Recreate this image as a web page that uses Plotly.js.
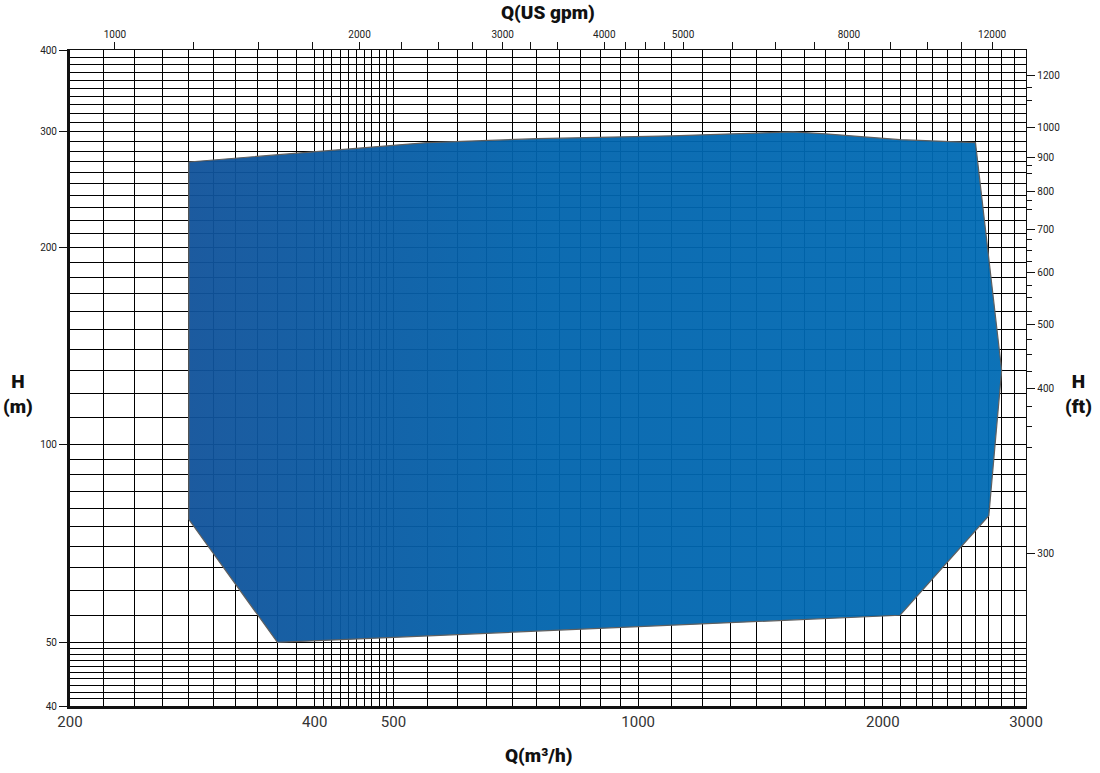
<!DOCTYPE html>
<html>
<head>
<meta charset="utf-8">
<script src="https://cdn.plot.ly/plotly-3.0.1.min.js"></script>
<style>
  html, body { margin: 0; padding: 0; background: #fff; }
  #graph { width: 1100px; height: 773px; }
</style>
</head>
<body>
<div id="graph"></div>
<script>
// operating range polygon, Q in m3/h, H in m
var qPoly = [280, 550, 750, 1100, 1550, 1700, 2100, 2600, 2800, 2700, 2100, 780, 360, 280, 280];
var hPoly = [270, 289, 293, 296, 300, 298, 292, 289, 130, 78, 55, 52.1, 50, 77, 270];

// bottom axis Q(m3/h)
var qTicks = [200, 400, 500, 1000, 2000, 3000];
var qGrid = [220, 240, 260, 280, 300, 320, 340, 360, 380,
             410, 420, 430, 440, 450, 460, 470, 480, 490,
             550, 600, 650, 700, 750, 800, 850, 900, 950,
             1100, 1200, 1300, 1400, 1500, 1600, 1700, 1800, 1900,
             2100, 2200, 2300, 2400, 2500, 2600, 2700, 2800, 2900];

// left axis H(m)
var hTicks = [40, 50, 100, 200, 300, 400];
var hGrid = [41, 42, 43, 44, 45, 46, 47, 48, 49,
             55, 60, 65, 70, 75, 80, 85, 90, 95,
             110, 120, 130, 140, 150, 160, 170, 180, 190,
             210, 220, 230, 240, 250, 260, 270, 280, 290,
             310, 320, 330, 340, 350, 360, 370, 380, 390];

// top axis Q(US gpm)
var gpmTicks = [1000, 2000, 3000, 4000, 5000, 8000, 12000];
var gpmMinor = [1250, 1500, 1750, 2250, 2500, 2750, 3250, 3500,
                4250, 4500, 4750, 5750, 6500, 7250, 9000, 10000, 11000];

// right axis H(ft) - the "300" label sits where the original chart puts it
var ftTicks = [224, 400, 500, 600, 700, 800, 900, 1000, 1200];
var ftLabels = ['300', '400', '500', '600', '700', '800', '900', '1000', '1200'];
var ftMinor = [325, 350, 375, 425, 450, 475, 525, 550, 575, 625, 650, 675,
               750, 775, 850, 875, 1100, 1150];

var M3H_TO_GPM = 4.4029;
var M_TO_FT = 3.2808;

function log10(v) { return Math.log(v) / Math.LN10; }

var gridStyle = '#000';
var tickFont = { family: 'Liberation Sans Narrow, Roboto, sans-serif', size: 10, color: '#222' };

var rangeTrace = {
    x: qPoly,
    y: hPoly,
    mode: 'lines',
    fill: 'toself',
    fillgradient: {
        type: 'horizontal',
        colorscale: [
            [0, 'rgba(16,82,154,0.95)'],
            [0.45, 'rgba(0,100,173,0.95)'],
            [1, 'rgba(0,107,180,0.95)']
        ]
    },
    line: { color: 'rgb(95,95,95)', width: 1.2 },
    hoverinfo: 'skip',
    showlegend: false
};

// invisible helpers so the secondary axes get drawn
var topHelper = {
    x: [200 * M3H_TO_GPM, 3000 * M3H_TO_GPM],
    y: [100, 100],
    xaxis: 'x2', yaxis: 'y',
    mode: 'markers', marker: { opacity: 0 },
    hoverinfo: 'skip', showlegend: false
};
var rightHelper = {
    x: [1000, 1000],
    y: [40 * M_TO_FT, 400 * M_TO_FT],
    xaxis: 'x', yaxis: 'y2',
    mode: 'markers', marker: { opacity: 0 },
    hoverinfo: 'skip', showlegend: false
};

var titleFont = { family: 'Roboto, Lato, sans-serif', size: 19, color: '#111', weight: 900 };

var layout = {
    width: 1100,
    height: 773,
    margin: { l: 70, r: 74, t: 50, b: 67 },
    paper_bgcolor: '#fff',
    plot_bgcolor: '#fff',
    hovermode: false,
    xaxis: {
        type: 'log',
        range: [log10(200), log10(3000)],
        tickmode: 'array',
        tickvals: qTicks,
        ticktext: qTicks.map(String),
        ticks: '',
        tickfont: { family: 'Liberation Sans Narrow, Roboto, sans-serif', size: 15, color: '#333' },
        showgrid: true,
        gridcolor: gridStyle,
        gridwidth: 1,
        zeroline: false,
        showline: true,
        linecolor: '#111',
        linewidth: 2.5,
        minor: {
            tickmode: 'array',
            tickvals: qGrid,
            showgrid: true,
            gridcolor: gridStyle,
            gridwidth: 1,
            ticks: ''
        }
    },
    yaxis: {
        type: 'log',
        range: [log10(40), log10(400)],
        tickmode: 'array',
        tickvals: hTicks,
        ticktext: hTicks.map(String),
        ticks: 'outside',
        ticklen: 8,
        tickwidth: 1,
        tickcolor: '#111',
        tickfont: tickFont,
        showgrid: true,
        gridcolor: gridStyle,
        gridwidth: 1,
        zeroline: false,
        showline: true,
        linecolor: '#111',
        linewidth: 3,
        minor: {
            tickmode: 'array',
            tickvals: hGrid,
            showgrid: true,
            gridcolor: gridStyle,
            gridwidth: 1,
            ticks: ''
        }
    },
    xaxis2: {
        type: 'log',
        overlaying: 'x',
        side: 'top',
        range: [log10(200 * M3H_TO_GPM), log10(3000 * M3H_TO_GPM)],
        tickmode: 'array',
        tickvals: gpmTicks,
        ticktext: gpmTicks.map(String),
        ticks: 'outside',
        ticklen: 7,
        tickwidth: 1,
        tickcolor: '#111',
        tickfont: tickFont,
        showgrid: false,
        zeroline: false,
        showline: true,
        linecolor: '#111',
        linewidth: 1.3,
        minor: {
            tickmode: 'array',
            tickvals: gpmMinor,
            ticks: 'outside',
            ticklen: 7,
            tickwidth: 1,
            tickcolor: '#111',
            showgrid: false
        }
    },
    yaxis2: {
        type: 'log',
        overlaying: 'y',
        side: 'right',
        range: [log10(40 * M_TO_FT), log10(400 * M_TO_FT)],
        tickmode: 'array',
        tickvals: ftTicks,
        ticktext: ftLabels,
        ticks: 'outside',
        ticklen: 8,
        tickwidth: 1,
        tickcolor: '#111',
        tickfont: tickFont,
        showgrid: false,
        zeroline: false,
        showline: true,
        linecolor: '#111',
        linewidth: 1.3,
        minor: {
            tickmode: 'array',
            tickvals: ftMinor,
            ticks: 'outside',
            ticklen: 5,
            tickwidth: 1,
            tickcolor: '#111',
            showgrid: false
        }
    },
    annotations: [
        { text: 'Q(US gpm)', xref: 'paper', yref: 'paper', x: 0.5, xanchor: 'center', y: 1, yanchor: 'bottom', yshift: 24,
          showarrow: false, font: titleFont },
        { text: 'Q(m³/h)', xref: 'paper', yref: 'paper', x: 0.49, xanchor: 'center', y: 0, yanchor: 'top', yshift: -36,
          showarrow: false, font: titleFont },
        { text: 'H<br>(m)', xref: 'paper', yref: 'paper', x: 0, xanchor: 'center', xshift: -52, y: 0.475,
          showarrow: false, font: titleFont, align: 'center' },
        { text: 'H<br>(ft)', xref: 'paper', yref: 'paper', x: 1, xanchor: 'center', xshift: 52, y: 0.475,
          showarrow: false, font: titleFont, align: 'center' }
    ]
};

Plotly.newPlot('graph', [rangeTrace, topHelper, rightHelper], layout, { displayModeBar: false, staticPlot: true });
</script>
</body>
</html>
